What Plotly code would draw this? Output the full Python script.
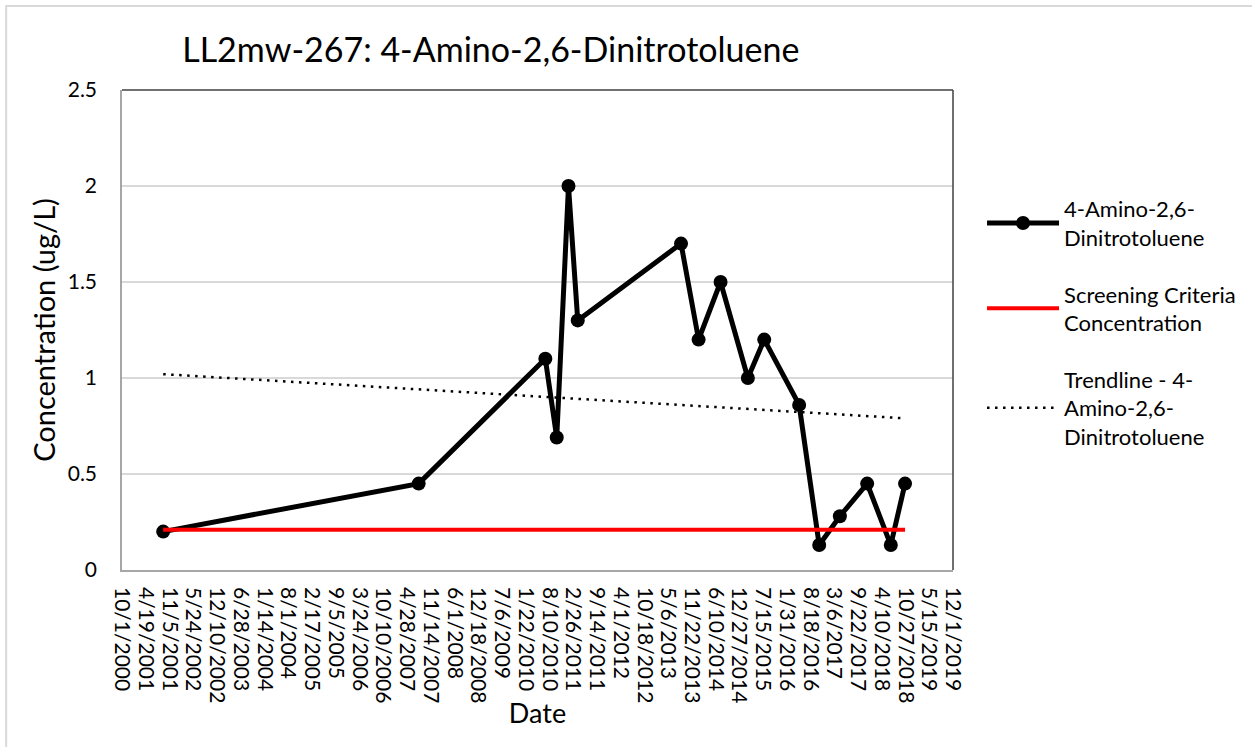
import plotly.graph_objects as go
import pandas as pd

# ---- data ----
sample_dates = ["2001-09-13", "2007-08-05", "2010-07-07", "2010-10-11", "2011-01-18",
                "2011-04-06", "2013-08-23", "2014-01-18", "2014-07-22", "2015-03-09",
                "2015-07-25", "2016-05-14", "2016-10-30", "2017-04-22", "2017-12-08",
                "2018-06-25", "2018-10-23"]
concentration = [0.20, 0.45, 1.10, 0.69, 2.00, 1.30, 1.70, 1.20, 1.50, 1.00,
                 1.20, 0.86, 0.13, 0.28, 0.45, 0.13, 0.45]
screening_dates = ["2001-09-13", "2018-10-23"]
screening_values = [0.21, 0.21]
trend_dates = ["2001-09-13", "2018-10-23"]
trend_values = [1.02, 0.79]
tick_labels = ["10/1/2000", "4/19/2001", "11/5/2001", "5/24/2002", "12/10/2002", "6/28/2003",
               "1/14/2004", "8/1/2004", "2/17/2005", "9/5/2005", "3/24/2006", "10/10/2006",
               "4/28/2007", "11/14/2007", "6/1/2008", "12/18/2008", "7/6/2009", "1/22/2010",
               "8/10/2010", "2/26/2011", "9/14/2011", "4/1/2012", "10/18/2012", "5/6/2013",
               "11/22/2013", "6/10/2014", "12/27/2014", "7/15/2015", "1/31/2016", "8/18/2016",
               "3/6/2017", "9/22/2017", "4/10/2018", "10/27/2018", "5/15/2019", "12/1/2019"]
y_ticks = [0, 0.5, 1, 1.5, 2, 2.5]
y_tick_text = ["0", "0.5", "1", "1.5", "2", "2.5"]

tick_vals = [pd.to_datetime(t, format="%m/%d/%Y").strftime("%Y-%m-%d") for t in tick_labels]

FONT = "Lato"

fig = go.Figure()
fig.add_trace(go.Scatter(
    x=sample_dates, y=concentration, mode="lines+markers",
    name="4-Amino-2,6-<br>Dinitrotoluene", legendgroup="a",
    line=dict(color="black", width=5), marker=dict(color="black", size=14),
))
fig.add_trace(go.Scatter(
    x=screening_dates, y=screening_values, mode="lines",
    name="Screening Criteria<br>Concentration", legendgroup="b",
    line=dict(color="#ff0000", width=4),
))
fig.add_trace(go.Scatter(
    x=trend_dates, y=trend_values, mode="lines",
    name="Trendline - 4-<br>Amino-2,6-<br>Dinitrotoluene", legendgroup="c",
    line=dict(color="black", width=2.5, dash="2.5px,5.5px"),
))

fig.update_layout(
    width=1252, height=747,
    margin=dict(l=122, r=298, t=90, b=177),
    paper_bgcolor="white", plot_bgcolor="white",
    font=dict(family=FONT, color="black"),
    title=dict(text="LL2mw-267: 4-Amino-2,6-Dinitrotoluene", x=0.392, xanchor="center",
               y=0.933, yanchor="middle", font=dict(size=34, family=FONT, color="black")),
    showlegend=True,
    legend=dict(x=1.0337, y=0.796, xanchor="left", yanchor="top", font=dict(size=22, family=FONT),
                itemwidth=72, tracegroupgap=25, bgcolor="rgba(0,0,0,0)"),
    xaxis=dict(
        range=[tick_vals[0], tick_vals[-1]], tickvals=tick_vals, ticktext=tick_labels,
        tickangle=90, tickfont=dict(size=21, family=FONT), showgrid=False,
        showline=True, linecolor="#a6a6a6", linewidth=1.5, ticks="", ticklabelstandoff=11,
        title=dict(text="Date", font=dict(size=27, family=FONT), standoff=2),
    ),
    yaxis=dict(
        range=[0, 2.5], tickvals=y_ticks, ticktext=y_tick_text,
        tickfont=dict(size=21, family=FONT), showgrid=True, gridcolor="#d9d9d9", gridwidth=1.5,
        showline=True, linecolor="#a6a6a6", linewidth=1.5, ticks="", zeroline=False,
        ticklabelstandoff=19,
        title=dict(text="Concentration (ug/L)", font=dict(size=29, family=FONT), standoff=4),
    ),
    shapes=[
        dict(type="line", xref="paper", yref="paper", x0=0, x1=1, y0=1, y1=1,
             line=dict(color="#404040", width=1.5)),
        dict(type="line", xref="paper", yref="paper", x0=1, x1=1, y0=0, y1=1,
             line=dict(color="#404040", width=1.5)),
        dict(type="rect", xref="paper", yref="paper", x0=-0.1394, x1=1.4, y0=-0.5, y1=1.175,
             line=dict(color="#d9d9d9", width=2), layer="below"),
    ],
)

fig.write_html("out.html", config={"displayModeBar": False},
               post_script="document.body.style.margin='0';")
